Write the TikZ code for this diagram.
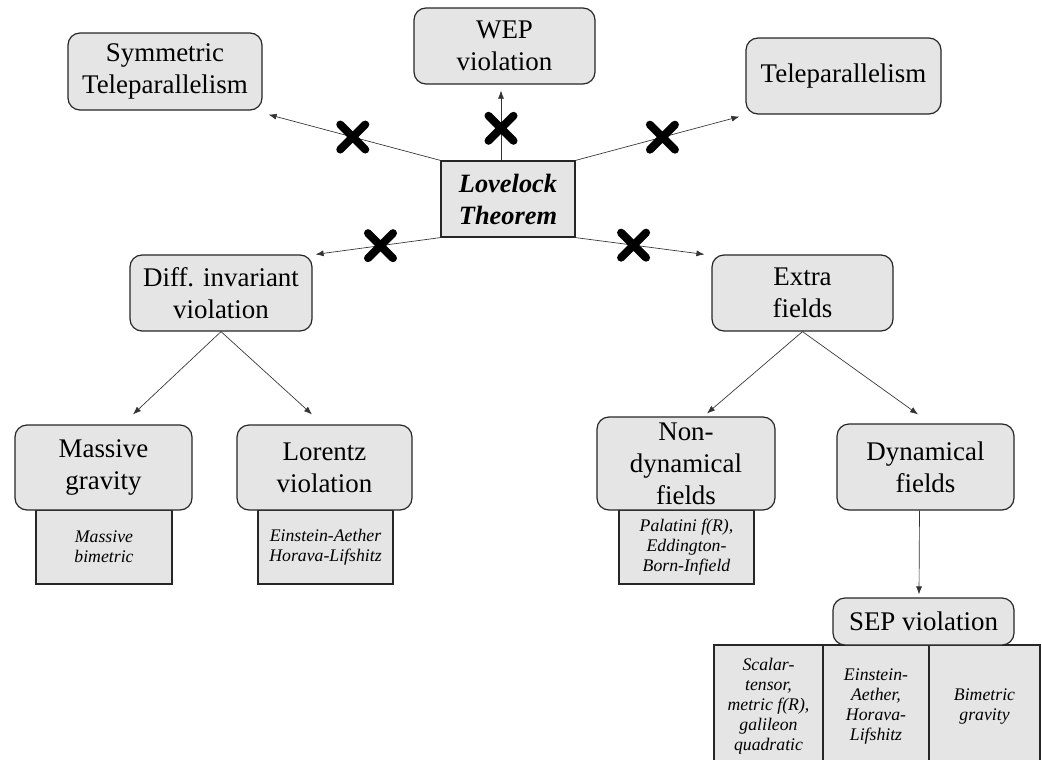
\documentclass[tikz,border=0pt]{standalone}
\usepackage{fontspec}
\setmainfont{Liberation Serif}
\usetikzlibrary{arrows.meta,shapes.misc,calc}
\begin{document}
\begin{tikzpicture}[x=0.75pt,y=-0.75pt,
 mainbox/.style={draw=black!85, line width=0.9pt, fill=black!10, rounded corners=9pt, align=center, inner sep=0pt, font=\fontsize{20.2}{24}\selectfont},
 lovebox/.style={draw=black!85, line width=0.9pt, fill=black!10, align=center, inner sep=0pt, font=\fontsize{19.8}{24}\selectfont\bfseries\itshape},
 subbox/.style={draw=black!85, line width=0.9pt, fill=black!10, align=center, inner sep=0pt, font=\fontsize{13.3}{15}\selectfont\itshape},
 arr/.style={draw=black!80, line width=0.5pt, -{Latex[length=6pt,width=4.5pt]}},
 xmark/.style={cross out, draw=black, line width=6pt, line cap=round, minimum size=18.75pt, inner sep=0pt, outer sep=0pt},
]
\useasboundingbox (0,0) rectangle (1042,760);
\clip (0,0) rectangle (1042,760);

% sub boxes (drawn first, under the rounded boxes)
\node[subbox, minimum width=102pt, minimum height=55.5pt] (masssub) at (104,547) {Massive\\bimetric};
\node[subbox, minimum width=101.25pt, minimum height=55.5pt] (lorsub) at (325.5,547) {Einstein-Aether\\Horava-Lifshitz};
\node[subbox, minimum width=101.25pt, minimum height=55.5pt] (ndsub) at (686.5,547) {Palatini f(R),\\Eddington-\\Born-Infield};
\node[subbox, minimum width=81.75pt, minimum height=92.25pt] (sepA) at (768.5,706.5) {Scalar-\\tensor,\\metric f(R),\\galileon\\quadratic};
\node[subbox, minimum width=79.5pt, minimum height=92.25pt] (sepB) at (876,706.5) {Einstein-\\Aether,\\Horava-\\Lifshitz};
\node[subbox, minimum width=83.25pt, minimum height=92.25pt] (sepC) at (984.5,706.5) {Bimetric\\gravity};

% main boxes
\node[mainbox, minimum width=145.5pt, minimum height=57.75pt] (sym) at (165,71.5) {Symmetric\\Teleparallelism};
\node[mainbox, minimum width=135.75pt, minimum height=57pt] (wep) at (504.5,46) {WEP\\violation};
\node[mainbox, minimum width=146.25pt, minimum height=57pt] (tele) at (843.5,76) {Teleparallelism};
\node[lovebox, minimum width=100.5pt, minimum height=57pt] (love) at (508,199) {Lovelock\\Theorem};
\node[mainbox, minimum width=136.5pt, minimum height=57pt] (diff) at (221,293) {Diff. invariant\\violation};
\node[mainbox, minimum width=135.75pt, minimum height=57pt] (extra) at (802.5,293) {Extra\\fields};
\node[mainbox, minimum width=132.75pt, minimum height=63.75pt] (mass) at (103.5,467.5) {Massive\\gravity};
\node[mainbox, minimum width=131.25pt, minimum height=63.75pt] (lor) at (324.5,467.5) {Lorentz\\violation};
\node[mainbox, minimum width=133.5pt, minimum height=69.75pt] (nondyn) at (686,463.5) {Non-\\dynamical\\fields};
\node[mainbox, minimum width=132.75pt, minimum height=64.5pt] (dyn) at (925.5,467) {Dynamical\\fields};
\node[mainbox, minimum width=135.75pt, minimum height=35.25pt] (sep) at (923.5,621.5) {SEP violation};

% connectors
\draw[arr] (love.north west) -- node[xmark, pos=0.51]{} ([shift={(6,4)}]sym.south east);
\draw[arr] ([shift={(-7,0)}]love.north) -- node[xmark, pos=0.46]{} ([shift={(-3.5,6)}]wep.south);
\draw[arr] (love.north east) -- node[xmark, pos=0.53]{} ([shift={(-6,2)}]tele.south west);
\draw[arr] (love.south west) -- node[xmark, pos=0.48]{} ([shift={(3,0)}]diff.north east);
\draw[arr] (love.south east) -- node[xmark, pos=0.45]{} ([shift={(-7,0)}]extra.north west);
\draw[arr] (diff.south) -- ([shift={(29.5,-10)}]mass.north);
\draw[arr] (diff.south) -- ([shift={(-12.5,-10)}]lor.north);
\draw[arr] (extra.south) -- ([shift={(21,-3)}]nondyn.north);
\draw[arr] (extra.south) -- ([shift={(-7.5,-9)}]dyn.north);
\draw[arr] ([shift={(-6,0)}]dyn.south) -- ([shift={(-4.5,-3)}]sep.north);
\end{tikzpicture}
\end{document}
